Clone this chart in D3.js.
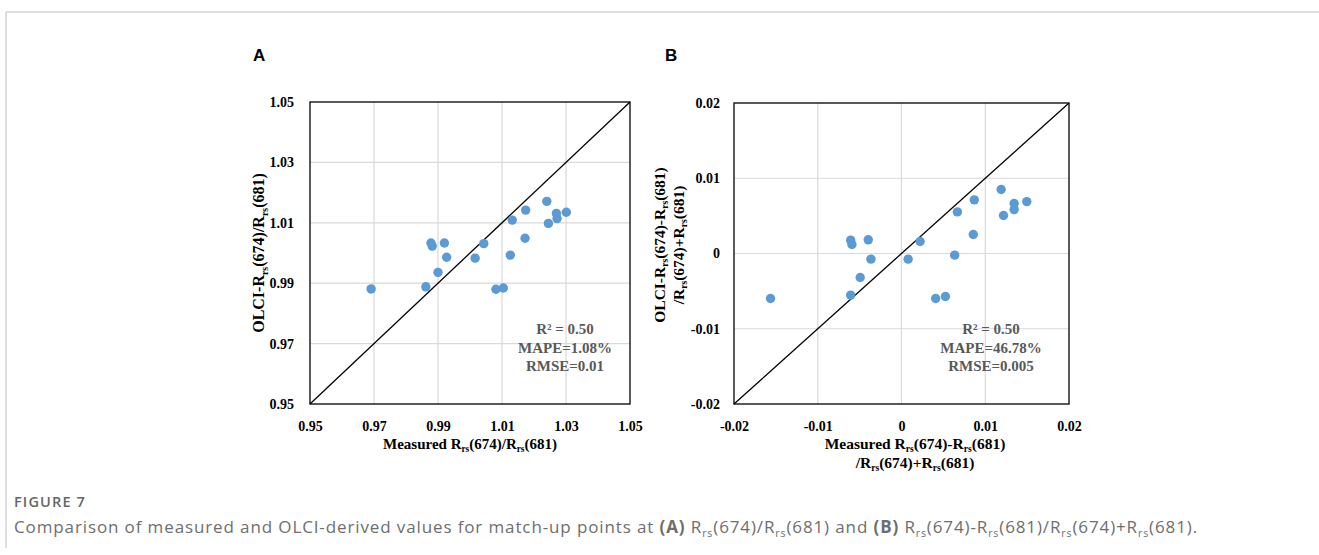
<!DOCTYPE html>
<html>
<head>
<meta charset="utf-8">
<script src="https://cdn.jsdelivr.net/npm/d3@7/dist/d3.min.js"></script>
<style>
  html, body { margin: 0; padding: 0; background: #ffffff; }
  svg { display: block; }
</style>
</head>
<body>
<svg id="fig" width="1319" height="555"></svg>
<script>
// Panel A: band ratio Rrs(674)/Rrs(681), measured vs OLCI-derived
const measuredRatio = [0.9691, 0.9862, 0.9878, 0.9882, 0.9920, 0.9927, 0.9900, 1.0016, 1.0043, 1.0081,
                       1.0104, 1.0126, 1.0132, 1.0172, 1.0174, 1.0240, 1.0245, 1.0270, 1.0272, 1.0301];
const olciRatio     = [0.9881, 0.9888, 1.0033, 1.0023, 1.0033, 0.9986, 0.9936, 0.9983, 1.0031, 0.9880,
                       0.9884, 0.9993, 1.0109, 1.0049, 1.0142, 1.0171, 1.0098, 1.0131, 1.0114, 1.0135];
const ratioTicks    = [0.95, 0.97, 0.99, 1.01, 1.03, 1.05];
const ratioStats    = ["R² = 0.50", "MAPE=1.08%", "RMSE=0.01"];

// Panel B: normalised difference (674-681)/(674+681), measured vs OLCI-derived
const measuredDiff = [-0.01564, -0.00607, -0.00607, -0.00592, -0.00397, -0.00493, -0.00365, 0.00079, 0.00222, 0.00408,
                       0.00524, 0.00635, 0.00667, 0.00857, 0.00869, 0.01190, 0.01218, 0.01345, 0.01345, 0.01496];
const olciDiff     = [-0.00598, -0.00553, 0.00177, 0.00120, 0.00182, -0.00319, -0.00075, -0.00075, 0.00159, -0.00598,
                      -0.00571, -0.00022, 0.00553, 0.00252, 0.00713, 0.00850, 0.00505, 0.00664, 0.00584, 0.00690];
const diffTicks    = [-0.02, -0.01, 0, 0.01, 0.02];
const diffStats    = ["R² = 0.50", "MAPE=46.78%", "RMSE=0.005"];

const svg = d3.select("#fig");
const SERIF = "'Liberation Serif', 'Times New Roman', serif";
const DOT = "#5b9bd5";

// Writes text made of runs; runs flagged sub are drawn as subscripts
function rich(textSel, runs, size) {
  runs.forEach(r => {
    if (r.sub) {
      textSel.append("tspan").attr("font-size", size * 0.62).attr("dy", size * 0.22).text(r.t);
    } else {
      const ts = textSel.append("tspan").text(r.t);
      if (r.after) ts.attr("dy", -size * 0.22);
      if (r.bold) ts.attr("font-weight", 700);
    }
  });
  return textSel;
}
// Builds runs from a string where "_rs" marks the subscript
function runsOf(str) {
  const parts = str.split("_rs");
  const out = [];
  parts.forEach((p, i) => {
    if (i > 0) out.push({ t: "rs", sub: true });
    if (p.length) out.push({ t: p, after: i > 0 });
  });
  return out;
}

function panel(cfg) {
  const { left, top, width, height, domain, ticks, fmt, xs, ys } = cfg;
  const x = d3.scaleLinear().domain(domain).range([left, left + width]);
  const y = d3.scaleLinear().domain(domain).range([top + height, top]);
  const g = svg.append("g");

  // grid
  g.append("g").selectAll("line").data(ticks.slice(1, -1)).join("line")
    .attr("x1", d => x(d)).attr("x2", d => x(d))
    .attr("y1", top).attr("y2", top + height)
    .attr("stroke", "#d9d9d9").attr("stroke-width", 1.2);
  g.append("g").selectAll("line").data(ticks.slice(1, -1)).join("line")
    .attr("x1", left).attr("x2", left + width)
    .attr("y1", d => y(d)).attr("y2", d => y(d))
    .attr("stroke", "#d9d9d9").attr("stroke-width", 1.2);

  // 1:1 line
  g.append("line")
    .attr("x1", x(domain[0])).attr("y1", y(domain[0]))
    .attr("x2", x(domain[1])).attr("y2", y(domain[1]))
    .attr("stroke", "#000").attr("stroke-width", 1.3);

  // frame
  g.append("rect").attr("x", left).attr("y", top).attr("width", width).attr("height", height)
    .attr("fill", "none").attr("stroke", "#000").attr("stroke-width", 1.3);

  // tick labels via d3 axes
  const xAxis = d3.axisBottom(x).tickValues(ticks).tickFormat(fmt).tickSize(0).tickPadding(17);
  const yAxis = d3.axisLeft(y).tickValues(ticks).tickFormat(fmt).tickSize(0).tickPadding(cfg.yPad);
  const gx = g.append("g").attr("transform", `translate(0,${top + height})`).call(xAxis);
  const gy = g.append("g").attr("transform", `translate(${left},0)`).call(yAxis);
  [gx, gy].forEach(a => {
    a.select(".domain").remove();
    a.selectAll("text").attr("font-family", SERIF).attr("font-weight", 700)
      .attr("font-size", 14).attr("fill", "#000");
  });

  // points
  g.append("g").selectAll("circle").data(xs.map((v, i) => [v, ys[i]])).join("circle")
    .attr("cx", d => x(d[0])).attr("cy", d => y(d[1])).attr("r", 4.7).attr("fill", DOT);

  // statistics
  cfg.stats.forEach((s, i) => {
    g.append("text").attr("x", cfg.statX).attr("y", top + height - 70 + i * 18.5)
      .attr("text-anchor", "middle").attr("font-family", SERIF).attr("font-weight", 700)
      .attr("font-size", 15).attr("fill", "#595959").text(s);
  });

  // x title
  cfg.xTitle.forEach((line, i) => {
    const t = g.append("text").attr("x", cfg.xTitleX).attr("y", top + height + 45 + i * 19)
      .attr("text-anchor", "middle").attr("font-family", SERIF).attr("font-weight", 700)
      .attr("font-size", cfg.xTitleSize).attr("fill", "#000");
    rich(t, runsOf(line), cfg.xTitleSize);
  });
  // y title
  cfg.yTitle.forEach((line, i) => {
    const cx = cfg.yTitleX + i * 19;
    const t = g.append("text").attr("transform", `translate(${cx},${cfg.yTitleY}) rotate(-90)`)
      .attr("text-anchor", "middle").attr("font-family", SERIF).attr("font-weight", 700)
      .attr("font-size", cfg.yTitleSize).attr("fill", "#000");
    rich(t, runsOf(line), cfg.yTitleSize);
  });

  // panel letter
  svg.append("text").attr("x", cfg.letterX).attr("y", 61)
    .attr("font-family", "'Liberation Sans', Arial, sans-serif").attr("font-weight", 700)
    .attr("font-size", 17).attr("fill", "#000").text(cfg.letter);
}

// figure frame lines
svg.append("line").attr("x1", 6).attr("x2", 1319).attr("y1", 12).attr("y2", 12)
  .attr("stroke", "#d4d4d4").attr("stroke-width", 1.5);
svg.append("line").attr("x1", 6).attr("x2", 6).attr("y1", 12).attr("y2", 548)
  .attr("stroke", "#d4d4d4").attr("stroke-width", 1.5);

panel({
  letter: "A", letterX: 253,
  left: 310, top: 102, width: 320, height: 302,
  domain: [0.95, 1.05], ticks: ratioTicks, fmt: d => d.toFixed(2), yPad: 16,
  xs: measuredRatio, ys: olciRatio, stats: ratioStats, statX: 565,
  xTitle: ["Measured R_rs(674)/R_rs(681)"], xTitleSize: 15, xTitleX: 470,
  yTitle: ["OLCI-R_rs(674)/R_rs(681)"], yTitleX: 264, yTitleY: 253, yTitleSize: 16
});

panel({
  letter: "B", letterX: 665,
  left: 734, top: 103, width: 335, height: 301,
  domain: [-0.02, 0.02], ticks: diffTicks, fmt: d => d === 0 ? "0" : d.toFixed(2), yPad: 14,
  xs: measuredDiff, ys: olciDiff, stats: diffStats, statX: 991,
  xTitle: ["Measured R_rs(674)-R_rs(681)", "/R_rs(674)+R_rs(681)"], xTitleSize: 15.5, xTitleX: 915,
  yTitle: ["OLCI-R_rs(674)-R_rs(681)", "/R_rs(674)+R_rs(681)"], yTitleX: 665, yTitleY: 245, yTitleSize: 15.5
});

// caption
const CAP = "'Open Sans', 'Noto Sans', sans-serif";
const fig = svg.append("text").attr("x", 14).attr("y", 507)
  .attr("font-family", CAP).attr("font-weight", 600).attr("font-size", 14.5)
  .attr("fill", "#666").text("FIGURE 7");
fig.attr("letter-spacing", Math.max(0, (72 - fig.node().getComputedTextLength()) / 8));

const capRuns = [
  { t: "Comparison of measured and OLCI-derived values for match-up points at " },
  { t: "(A)", bold: true }, { t: " R" }, { t: "rs", sub: true }, { t: "(674)/R", after: true },
  { t: "rs", sub: true }, { t: "(681) and ", after: true },
  { t: "(B)", bold: true }, { t: " R" }, { t: "rs", sub: true }, { t: "(674)-R", after: true },
  { t: "rs", sub: true }, { t: "(681)/R", after: true }, { t: "rs", sub: true },
  { t: "(674)+R", after: true }, { t: "rs", sub: true }, { t: "(681).", after: true }
];
const cap = svg.append("text").attr("x", 14).attr("y", 533)
  .attr("font-family", CAP).attr("font-size", 17).attr("fill", "#6e6e6e");
rich(cap, capRuns, 17);
// spread the caption to the figure's text width
const nChars = capRuns.reduce((s, r) => s + r.t.length, 0);
cap.attr("letter-spacing", (1184 - cap.node().getComputedTextLength()) / nChars);
</script>
</body>
</html>
